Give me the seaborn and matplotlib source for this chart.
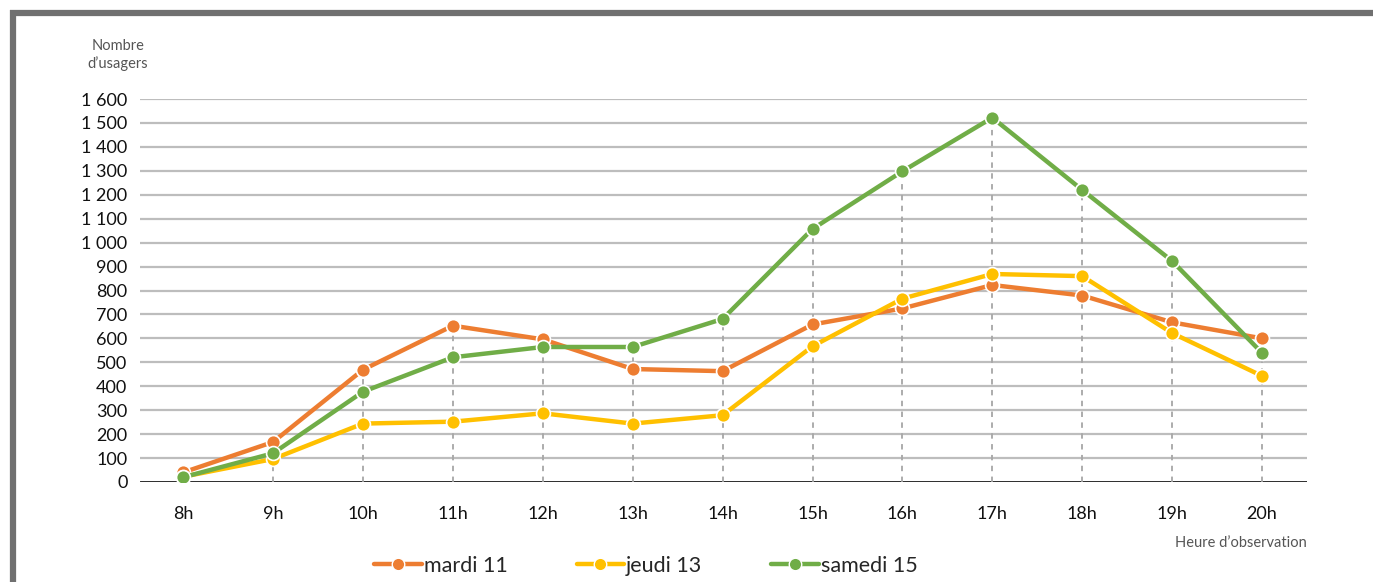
import numpy as np
import pandas as pd
import matplotlib
matplotlib.use("Agg")
import matplotlib.pyplot as plt
import seaborn as sns
from matplotlib.lines import Line2D

# ---- data ----
hours = ["8h", "9h", "10h", "11h", "12h", "13h", "14h", "15h", "16h", "17h", "18h", "19h", "20h"]
mardi_11 = [40, 167, 469, 653, 596, 472, 463, 658, 725, 823, 779, 667, 600]
jeudi_13 = [22, 96, 244, 252, 287, 244, 279, 567, 766, 869, 860, 622, 443]
samedi_15 = [20, 120, 377, 521, 564, 564, 681, 1057, 1298, 1522, 1220, 923, 539]
series_names = ["mardi 11", "jeudi 13", "samedi 15"]
colors = ["#ED7D31", "#FFC000", "#70AD47"]
y_ticks = [0, 100, 200, 300, 400, 500, 600, 700, 800, 900, 1000, 1100, 1200, 1300, 1400, 1500, 1600]
y_tick_labels = ["0", "100", "200", "300", "400", "500", "600", "700", "800", "900",
                 "1 000", "1 100", "1 200", "1 300", "1 400", "1 500", "1 600"]

df = pd.DataFrame({
    "x": list(range(len(hours))) * 3,
    "value": mardi_11 + jeudi_13 + samedi_15,
    "serie": [series_names[0]] * len(hours) + [series_names[1]] * len(hours) + [series_names[2]] * len(hours),
})

sns.set_theme(style="white")
plt.rcParams["font.family"] = ["Lato", "DejaVu Sans"]

fig = plt.figure(figsize=(13.73, 5.82), dpi=100)
ax = fig.add_axes([140 / 1373, 100 / 582, (1307 - 140) / 1373, (482 - 99) / 582])

# gridlines
for yv in y_ticks[1:]:
    ax.axhline(yv, color="#bdbdbd", lw=1.6, zorder=0)
ax.axhline(0, color="#1a1a1a", lw=2.0, zorder=1)

# dashed drop lines from highest point
maxima = np.max(np.array([mardi_11, jeudi_13, samedi_15]), axis=0)
ax.vlines(range(len(hours)), 0, maxima, colors="#a6a6a6", linestyles=(0, (3, 3)), lw=1.3, zorder=1)

sns.lineplot(data=df, x="x", y="value", hue="serie", hue_order=series_names,
             palette=colors, marker="o", markersize=10, markeredgecolor="white",
             markeredgewidth=1.2, linewidth=3.2, ax=ax, legend=False, zorder=3)

ax.set_xlim(-0.48, 12.5)
ax.set_ylim(0, 1600)
ax.set_xticks(range(len(hours)))
ax.set_xticklabels(hours)
ax.set_yticks(y_ticks)
ax.set_yticklabels(y_tick_labels)
ax.tick_params(axis="x", length=0, pad=17, labelsize=13, labelcolor="#111111")
ax.tick_params(axis="y", length=0, pad=9, labelsize=13, labelcolor="#111111")
ax.set_xlabel("")
ax.set_ylabel("")
for s in ax.spines.values():
    s.set_visible(False)
ax.grid(False)

# axis titles
fig.text(118 / 1373, 1 - 55 / 582, "Nombre\nd\u2019usagers", ha="center", va="center",
         fontsize=10.5, color="#555555", linespacing=1.3)
fig.text(1307 / 1373, 1 - 543 / 582, "Heure d\u2019observation", ha="right", va="center",
         fontsize=10.5, color="#555555")

# legend
handles = [Line2D([0], [0], color=c, lw=3.2, marker="o", markersize=9,
                  markeredgecolor="white", markeredgewidth=1.0) for c in colors]
fig.legend(handles, series_names, loc="center", bbox_to_anchor=(646 / 1373, 1 - 566 / 582),
           ncol=3, frameon=False, fontsize=15.5, handlelength=2.2, handletextpad=0.1,
           columnspacing=3.2, borderaxespad=0)

# frame border (top and left)
fig.add_artist(Line2D([10 / 1373, 1.0], [1 - 13 / 582, 1 - 13 / 582], transform=fig.transFigure,
                      color="#707070", lw=4.5, solid_capstyle="butt"))
fig.add_artist(Line2D([13 / 1373, 13 / 1373], [0, 1 - 10 / 582], transform=fig.transFigure,
                      color="#707070", lw=4.5, solid_capstyle="butt"))

fig.savefig("out.png", dpi=100, facecolor="white")
